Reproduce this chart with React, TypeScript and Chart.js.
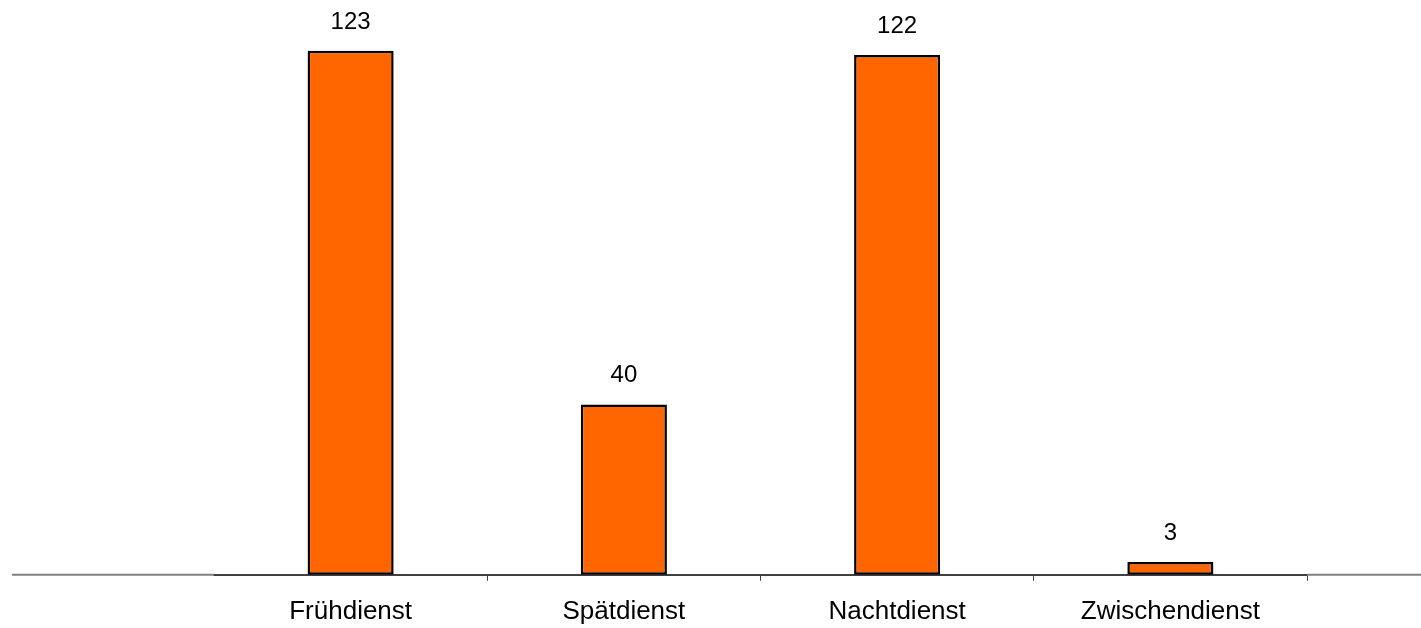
import React, { useEffect, useRef } from "react";
import { Chart, registerables, Plugin } from "chart.js";

Chart.register(...registerables);

const categories: string[] = ["Frühdienst", "Spätdienst", "Nachtdienst", "Zwischendienst"];
const counts: number[] = [123, 40, 122, 3];

const BAR_FILL = "#FF6600";
const AXIS_DARK = "#404040";
const AXIS_LIGHT = "#808080";
const FONT_FAMILY = "'Liberation Sans', Arial, sans-serif";

// Writes each bar's count just above it.
const valueLabels: Plugin<"bar"> = {
  id: "valueLabels",
  afterDatasetsDraw(chart) {
    const { ctx } = chart;
    const meta = chart.getDatasetMeta(0);
    const data = chart.data.datasets[0].data as number[];
    ctx.save();
    ctx.font = `24px ${FONT_FAMILY}`;
    ctx.fillStyle = "#000000";
    ctx.textAlign = "center";
    ctx.textBaseline = "alphabetic";
    meta.data.forEach((bar, i) => {
      ctx.fillText(String(data[i]), bar.x, bar.y - 22);
    });
    ctx.restore();
  },
};

// Lighter continuation of the baseline beyond the category axis on both sides.
const baselineExtension: Plugin<"bar"> = {
  id: "baselineExtension",
  beforeDatasetsDraw(chart) {
    const { ctx, chartArea, width } = chart;
    const y = chart.scales.y.getPixelForValue(0);
    ctx.save();
    ctx.strokeStyle = AXIS_LIGHT;
    ctx.lineWidth = 2;
    ctx.beginPath();
    ctx.moveTo(12, y);
    ctx.lineTo(chartArea.left, y);
    ctx.moveTo(chartArea.right, y);
    ctx.lineTo(width, y);
    ctx.stroke();
    ctx.restore();
  },
};

export default function App() {
  const canvasRef = useRef<HTMLCanvasElement | null>(null);

  useEffect(() => {
    if (!canvasRef.current) return;
    const chart = new Chart(canvasRef.current, {
      type: "bar",
      data: {
        labels: categories,
        datasets: [
          {
            data: counts,
            backgroundColor: BAR_FILL,
            borderColor: "#000000",
            borderWidth: 2.5,
            borderSkipped: false,
            categoryPercentage: 1,
            barPercentage: 0.315,
          },
        ],
      },
      options: {
        animation: false,
        responsive: true,
        maintainAspectRatio: false,
        layout: { padding: { left: 214, right: 114, top: 21, bottom: -14 } },
        plugins: {
          legend: { display: false },
          tooltip: { enabled: false },
        },
        scales: {
          x: {
            offset: true,
            border: { display: true, color: AXIS_DARK, width: 2 },
            grid: {
              offset: true,
              drawOnChartArea: false,
              drawTicks: true,
              tickLength: 6,
              lineWidth: 1,
              color: (ctx) => (ctx.index === 0 ? "rgba(0,0,0,0)" : AXIS_DARK),
            },
            ticks: {
              color: "#000000",
              padding: 15,
              font: { family: FONT_FAMILY, size: 26 },
            },
          },
          y: {
            display: false,
            min: 0,
            max: 130,
          },
        },
      },
      plugins: [baselineExtension, valueLabels],
    });
    return () => chart.destroy();
  }, []);

  return (
    <div style={{ position: "fixed", left: 0, top: 0, width: 1421, height: 628, background: "#ffffff" }}>
      <canvas ref={canvasRef} />
    </div>
  );
}
